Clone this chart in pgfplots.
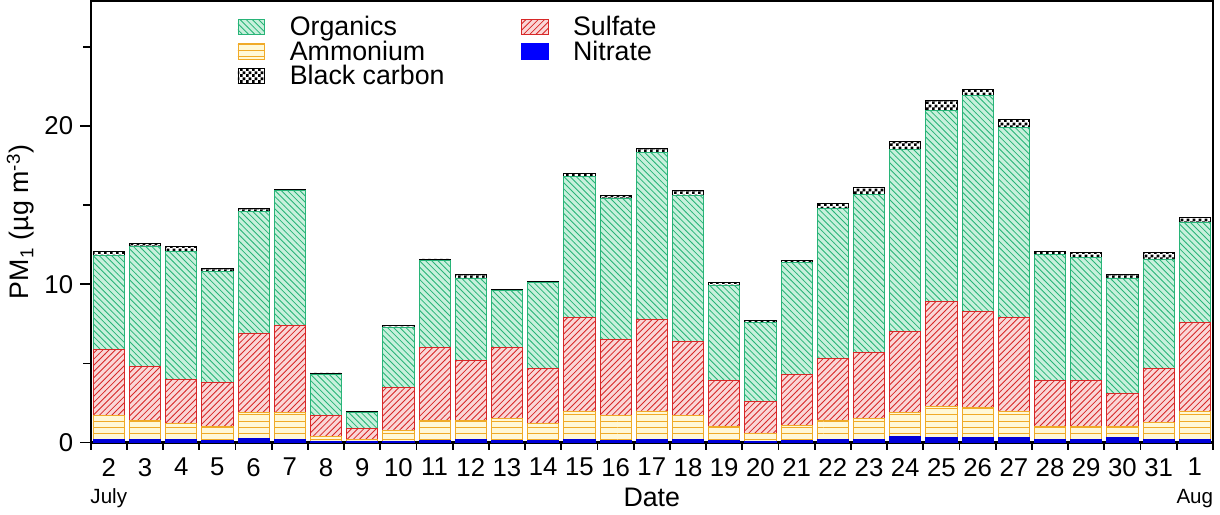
\documentclass[border=0pt]{standalone}
\usepackage{pgfplots}
\pgfplotsset{compat=1.18}
\usepackage{pgfplotstable}
\usepackage{fontspec}
\setmainfont{Liberation Sans}
\usetikzlibrary{patterns}
\pgfdeclarepatternformonly{smallchecker}{\pgfqpoint{0pt}{0pt}}{\pgfqpoint{3pt}{3pt}}{\pgfqpoint{3pt}{3pt}}{%
 \pgfpathrectangle{\pgfqpoint{0pt}{0pt}}{\pgfqpoint{1.5pt}{1.5pt}}%
 \pgfpathrectangle{\pgfqpoint{1.5pt}{1.5pt}}{\pgfqpoint{1.5pt}{1.5pt}}%
 \pgfusepath{fill}}
\definecolor{orgF}{RGB}{200,240,220}\definecolor{orgL}{RGB}{40,180,120}
\definecolor{sulF}{RGB}{250,215,215}\definecolor{sulL}{RGB}{215,40,40}
\definecolor{amF}{RGB}{255,248,215}\definecolor{amL}{RGB}{240,170,40}
\pgfplotstableread{
x N A S O B
0 0.2 1.5 4.2 5.9 0.3
1 0.2 1.2 3.4 7.6 0.2
2 0.2 1.0 2.8 8.1 0.3
3 0.15 0.85 2.8 7.0 0.2
4 0.25 1.65 5.0 7.7 0.2
5 0.2 1.7 5.5 8.5 0.1
6 0.1 0.3 1.3 2.6 0.1
7 0.05 0.15 0.7 1.0 0.05
8 0.1 0.7 2.7 3.8 0.1
9 0.15 1.25 4.6 5.5 0.1
10 0.2 1.2 3.8 5.2 0.2
11 0.15 1.35 4.5 3.6 0.1
12 0.15 1.05 3.5 5.4 0.1
13 0.2 1.8 5.9 8.9 0.2
14 0.15 1.55 4.8 8.9 0.2
15 0.2 1.8 5.8 10.5 0.3
16 0.2 1.5 4.7 9.2 0.3
17 0.15 0.85 2.9 6.0 0.2
18 0.1 0.5 2.0 5.0 0.1
19 0.15 0.95 3.2 7.1 0.1
20 0.2 1.2 3.9 9.5 0.3
21 0.2 1.3 4.2 10.0 0.4
22 0.4 1.5 5.1 11.5 0.5
23 0.3 2.0 6.6 12.1 0.6
24 0.3 1.9 6.1 13.6 0.4
25 0.3 1.7 5.9 12.0 0.5
26 0.2 0.8 2.9 8.0 0.2
27 0.2 0.8 2.9 7.8 0.3
28 0.3 0.7 2.1 7.3 0.2
29 0.2 1.1 3.4 6.9 0.4
30 0.2 1.8 5.6 6.3 0.3
}\data
\begin{document}
\begin{tikzpicture}
\begin{axis}[
 scale only axis, width=545pt, height=214.5pt,
 ybar stacked, bar width=0.86,
 xmin=-0.5, xmax=30.5, ymin=0, ymax=27.9,
 xtick={0,...,30},
 xticklabels={2,3,4,5,6,7,8,9,10,11,12,13,14,15,16,17,18,19,20,21,22,23,24,25,26,27,28,29,30,31,1},
 major x tick style={draw=none},
 minor xtick={-0.5,0.5,...,30.5},
 ytick={0,10,20}, minor ytick={5,15,25},
 tick align=outside, tick pos=left,
 major tick length=5pt, minor tick length=3.5pt,
 every tick/.style={black, line width=0.8pt},
 x tick label style={yshift=1pt},
 tick label style={font=\fontsize{12.5}{14}\selectfont},
 /pgf/number format/assume math mode=true,
 xlabel={Date}, ylabel={PM\textsubscript{1} (µg m\textsuperscript{-3})},
 label style={font=\fontsize{13}{15}\selectfont},
 xlabel style={yshift=1pt},
 ylabel style={yshift=-2pt},
 axis line style={line width=0.9pt},
 legend style={draw=none, fill=none, at={(0.125,0.985)}, anchor=north west,
   font=\fontsize{13}{15}\selectfont, row sep=-3pt,
   /tikz/column 1/.style={column sep=10pt},
   /tikz/column 3/.style={column sep=10pt},
   /tikz/column 2/.style={column sep=35pt}},
 legend cell align=left,
 legend columns=2,
 legend image code/.code={\draw[#1] (0pt,-3.5pt) rectangle (13pt,4pt);},
 clip=false,
]
\addlegendimage{fill=orgF, draw=orgL, postaction={pattern=north west lines, pattern color=orgL}}
\addlegendentry{Organics}
\addlegendimage{fill=sulF, draw=sulL, postaction={pattern=north east lines, pattern color=sulL}}
\addlegendentry{Sulfate}
\addlegendimage{fill=amF, draw=amL, postaction={pattern=horizontal lines, pattern color=amL}}
\addlegendentry{Ammonium}
\addlegendimage{fill=blue, draw=blue}
\addlegendentry{Nitrate}
\addlegendimage{fill=white, draw=black, postaction={pattern=smallchecker, pattern color=black}}
\addlegendentry{Black carbon}
\addplot[forget plot, fill=blue!85!black, draw=blue!85!black] table[x=x,y=N]{\data};
\addplot[forget plot, fill=amF, draw=amL, postaction={pattern=horizontal lines, pattern color=amL}] table[x=x,y=A]{\data};
\addplot[forget plot, fill=sulF, draw=sulL, postaction={pattern=north east lines, pattern color=sulL}] table[x=x,y=S]{\data};
\addplot[forget plot, fill=orgF, draw=orgL, postaction={pattern=north west lines, pattern color=orgL}] table[x=x,y=O]{\data};
\addplot[forget plot, fill=white, draw=black, postaction={pattern=smallchecker, pattern color=black}] table[x=x,y=B]{\data};
\draw[line width=1.2pt] (axis cs:-0.5,0) -- (axis cs:30.5,0);
\node[font=\fontsize{10}{12}\selectfont] at (axis cs:0,0) [yshift=-27pt] {July};
\node[font=\fontsize{10}{12}\selectfont] at (axis cs:30,0) [yshift=-27pt] {Aug};
\end{axis}
\end{tikzpicture}
\end{document}
